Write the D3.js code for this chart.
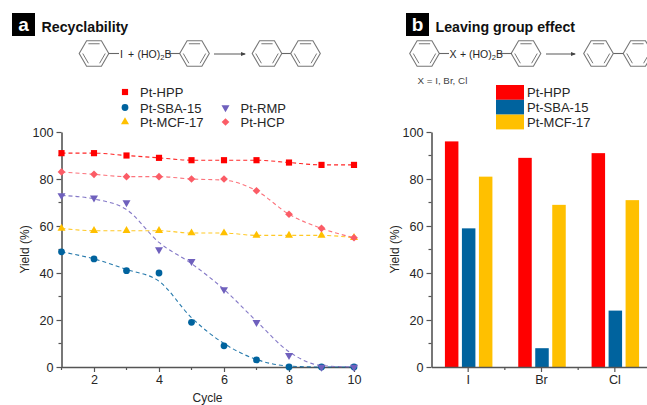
<!DOCTYPE html>
<html>
<head>
<meta charset="utf-8">
<script src="https://cdn.jsdelivr.net/npm/d3@7"></script>
<style>
  html, body { margin: 0; padding: 0; background: #fff; }
  svg { display: block; }
  text { font-family: "Liberation Sans", Arial, sans-serif; fill: #262626; }
</style>
</head>
<body>
<script>
var cycles = [1, 2, 3, 4, 5, 6, 7, 8, 9, 10];
var cycleTicks = [2, 4, 6, 8, 10];
var yieldTicks = [0, 20, 40, 60, 80, 100];
var yieldMinor = [10, 30, 50, 70, 90];

// points
var hpp = [91, 91, 90, 89, 88, 88, 88, 87, 86, 86];
var sba = [49, 46, 41, 40, 19, 9, 3, 0, 0, 0];
var mcf = [59, 58, 58, 58, 57, 57, 56, 56, 56, 55];
var rmp = [73, 72, 70, 50, 45, 33, 19, 5, 0, 0];
var hcp = [83, 82, 81, 81, 80, 80, 75, 65, 59, 55];

// dashed fit curves (these do not go through every point)
var sbaFit = [49, 46, 41.5, 36.5, 21, 10, 3.2, 0.4, 0, 0];
var rmpFit = [73, 71.5, 67, 53, 44, 33, 19.5, 6.5, 0.6, 0];
var hcpFit = [83, 82, 81, 81, 80, 79.5, 75, 65, 59, 55];

var leavingGroups = ["I", "Br", "Cl"];
var barHpp = [96, 89, 91];
var barSba = [59, 8, 24];
var barMcf = [81, 69, 71];

var red = "#ff0000", blue = "#00639e", gold = "#ffc000", purple = "#6f60bd", pink = "#fb5c66";
var axisCol = "#555";

var svg = d3.select("body").append("svg").attr("width", 647).attr("height", 405);

// ---- shared bits ----
function panelTag(x, letter, title) {
  svg.append("rect").attr("x", x).attr("y", 13).attr("width", 23).attr("height", 23).attr("fill", "#000");
  svg.append("text").attr("x", x + 11.5).attr("y", 31).attr("text-anchor", "middle")
    .attr("font-size", 19).attr("font-weight", "bold").style("fill", "#fff").text(letter);
  svg.append("text").attr("x", x + 29.5).attr("y", 32).attr("font-size", 14.2)
    .attr("font-weight", "bold").style("fill", "#111").text(title);
}

function ring(cx, cy, r) {
  var g = svg.append("g").attr("stroke", "#777").attr("fill", "none");
  var pts = d3.range(6).map(function (i) {
    var a = i * Math.PI / 3;
    return [cx + r * Math.cos(a), cy + r * Math.sin(a)];
  });
  g.append("path").attr("d", d3.line().curve(d3.curveLinearClosed)(pts)).attr("stroke-width", 1.1);
  [0, 2, 4].forEach(function (i) {
    var a = pts[i], b = pts[(i + 1) % 6], k = 0.76;
    var p = function (q) { return [cx + (q[0] - cx) * k, cy + (q[1] - cy) * k]; };
    var pa = p(a), pb = p(b);
    g.append("line").attr("x1", pa[0]).attr("y1", pa[1]).attr("x2", pb[0]).attr("y2", pb[1]).attr("stroke-width", 1);
  });
}

function bond(x1, y1, x2, y2) {
  svg.append("line").attr("x1", x1).attr("y1", y1).attr("x2", x2).attr("y2", y2)
    .attr("stroke", "#666").attr("stroke-width", 1.1);
}

function arrow(x1, x2, y) {
  bond(x1, y, x2, y);
  svg.append("path").attr("d", "M" + (x2 + 1) + "," + y + "L" + (x2 - 4) + "," + (y - 2) + "L" + (x2 - 4) + "," + (y + 2) + "Z").attr("fill", "#444");
}

function scheme(xs) {
  xs.forEach(function (c) { ring(c, 53.5, 14.8); });
  bond(xs[2] + 14.8, 53.5, xs[3] - 14.8, 53.5);
}

function yAxis(x, y) {
  var g = svg.append("g").attr("transform", "translate(" + x + ",0)");
  g.call(d3.axisLeft(y).tickValues(yieldTicks).tickSize(5).tickSizeOuter(0).tickPadding(3));
  g.selectAll("text").attr("font-size", 12.6);
  g.selectAll("line").attr("stroke", axisCol).attr("stroke-width", 1.2);
  g.select(".domain").attr("stroke", axisCol).attr("stroke-width", 1.6);
  g.selectAll(".minor").data(yieldMinor).enter().append("line").attr("class", "minor")
    .attr("x2", -3).attr("y1", function (d) { return y(d); }).attr("y2", function (d) { return y(d); })
    .attr("stroke", axisCol).attr("stroke-width", 1.2);
  g.append("text").attr("transform", "rotate(-90)").attr("x", -y(50)).attr("y", -33)
    .attr("text-anchor", "middle").attr("font-size", 12).style("fill", "#262626").text("Yield (%)");
}

// ---- panel a ----
panelTag(12, "a", "Recyclability");
scheme([94, 194.5, 267, 305.5]);
bond(108.5, 53.5, 119, 53.5);
bond(180, 53.5, 168, 53.5);
arrow(214, 245, 54);
svg.append("text").attr("x", 120).attr("y", 58).attr("font-size", 10.5).text("I");
svg.append("text").attr("x", 128).attr("y", 58).attr("font-size", 10.5).text("+");
svg.append("text").attr("x", 137.5).attr("y", 58).attr("font-size", 10.5)
  .html('(HO)<tspan font-size="7.5" dy="2">2</tspan><tspan dy="-2">B</tspan>');

var x = d3.scaleLinear().domain([1, 10]).range([61.5, 354]);
var y = d3.scaleLinear().domain([0, 100]).range([367, 132]);

var xAxisA = svg.append("g").attr("transform", "translate(0,367)");
xAxisA.call(d3.axisBottom(x).tickValues(cycleTicks).tickSize(5).tickSizeOuter(0).tickPadding(3));
xAxisA.selectAll("text").attr("font-size", 12.6);
xAxisA.selectAll("line").attr("stroke", axisCol).attr("stroke-width", 1.2);
xAxisA.select(".domain").attr("stroke", axisCol).attr("stroke-width", 1.6);
xAxisA.selectAll(".minor").data(cycles.filter(function (d) { return d % 2 == 1; })).enter()
  .append("line").attr("class", "minor").attr("y2", 3)
  .attr("x1", function (d) { return x(d); }).attr("x2", function (d) { return x(d); })
  .attr("stroke", axisCol).attr("stroke-width", 1.2);
svg.append("text").attr("x", 207.5).attr("y", 402).attr("text-anchor", "middle").attr("font-size", 12).text("Cycle");
yAxis(61.5, y);

var series = [
  { name: "Pt-HPP", pts: hpp, fit: hpp, col: red, sym: d3.symbolSquare, size: 38 },
  { name: "Pt-SBA-15", pts: sba, fit: sbaFit, col: blue, sym: d3.symbolCircle, size: 36 },
  { name: "Pt-MCF-17", pts: mcf, fit: mcf, col: gold, sym: d3.symbolTriangle, size: 28 },
  { name: "Pt-RMP", pts: rmp, fit: rmpFit, col: purple, sym: d3.symbolTriangle, size: 28, flip: true },
  { name: "Pt-HCP", pts: hcp, fit: hcpFit, col: pink, sym: d3.symbolDiamond2, size: 38 }
];

var fitLine = d3.line().x(function (d, i) { return x(cycles[i]); }).y(function (d) { return y(d); }).curve(d3.curveMonotoneX);

series.forEach(function (s) {
  svg.append("path").attr("d", fitLine(s.fit)).attr("fill", "none").attr("stroke", s.col)
    .attr("stroke-width", 1.1).attr("stroke-dasharray", "4,3").attr("opacity", 0.85);
});

function marker(s) {
  return d3.symbol().type(s.sym).size(s.size)();
}
series.forEach(function (s) {
  svg.append("g").selectAll("path").data(s.pts).enter().append("path")
    .attr("d", marker(s))
    .attr("fill", s.col)
    .attr("transform", function (d, i) {
      return "translate(" + x(cycles[i]) + "," + y(d) + ")" + (s.flip ? " rotate(180)" : "");
    });
});

// legend of panel a
var legendPos = [[125, 92], [125, 107.5], [125, 122], [225.5, 107.5], [225.5, 122]];
series.forEach(function (s, i) {
  var p = legendPos[i];
  svg.append("path").attr("d", marker(s)).attr("fill", s.col)
    .attr("transform", "translate(" + p[0] + "," + p[1] + ")" + (s.flip ? " rotate(180)" : ""));
  svg.append("text").attr("x", p[0] + 15).attr("y", p[1] + 5).attr("font-size", 13).text(s.name);
});

// ---- panel b ----
panelTag(406, "b", "Leaving group effect");
scheme([424.5, 526, 598.5, 638]);
bond(439, 53.5, 449, 53.5);
bond(512, 53.5, 500, 53.5);
arrow(546, 575, 54);
svg.append("text").attr("x", 449.5).attr("y", 58).attr("font-size", 10.5).text("X");
svg.append("text").attr("x", 460).attr("y", 58).attr("font-size", 10.5).text("+");
svg.append("text").attr("x", 469).attr("y", 58).attr("font-size", 10.5)
  .html('(HO)<tspan font-size="7.5" dy="2">2</tspan><tspan dy="-2">B</tspan>');
svg.append("text").attr("x", 417.5).attr("y", 84).attr("font-size", 9.8).style("fill", "#444").text("X = I, Br, Cl");

var xb = d3.scaleBand().domain(leavingGroups).range([431.5, 651.5]);
var inner = d3.scaleBand().domain([0, 1, 2]).range([-23.25, 24.25]).paddingInner(0.206).paddingOuter(0);

var barSets = [
  { name: "Pt-HPP", vals: barHpp, col: red },
  { name: "Pt-SBA-15", vals: barSba, col: blue },
  { name: "Pt-MCF-17", vals: barMcf, col: gold }
];

barSets.forEach(function (s, k) {
  svg.append("g").selectAll("rect").data(s.vals).enter().append("rect")
    .attr("x", function (d, i) { return xb(leavingGroups[i]) + xb.bandwidth() / 2 + inner(k); })
    .attr("y", function (d) { return y(d); })
    .attr("width", inner.bandwidth())
    .attr("height", function (d) { return y(0) - y(d); })
    .attr("fill", s.col);
});

var xAxisB = svg.append("g").attr("transform", "translate(0,367)");
xAxisB.call(d3.axisBottom(xb).tickSize(5).tickSizeOuter(0).tickPadding(3));
xAxisB.selectAll("text").attr("font-size", 12.6);
xAxisB.selectAll("line").attr("stroke", axisCol).attr("stroke-width", 1.2);
xAxisB.select(".domain").attr("stroke", axisCol).attr("stroke-width", 1.6);
xAxisB.selectAll(".minor").data(leavingGroups.slice(1)).enter().append("line").attr("class", "minor")
  .attr("y2", 3).attr("x1", function (d) { return xb(d); }).attr("x2", function (d) { return xb(d); })
  .attr("stroke", axisCol).attr("stroke-width", 1.2);
yAxis(431.5, y);

// legend of panel b
barSets.forEach(function (s, i) {
  svg.append("rect").attr("x", 496).attr("y", 85 + i * 14.8).attr("width", 28).attr("height", 14.8).attr("fill", s.col);
  svg.append("text").attr("x", 527).attr("y", 97 + i * 15).attr("font-size", 13).text(s.name);
});
</script>
</body>
</html>
